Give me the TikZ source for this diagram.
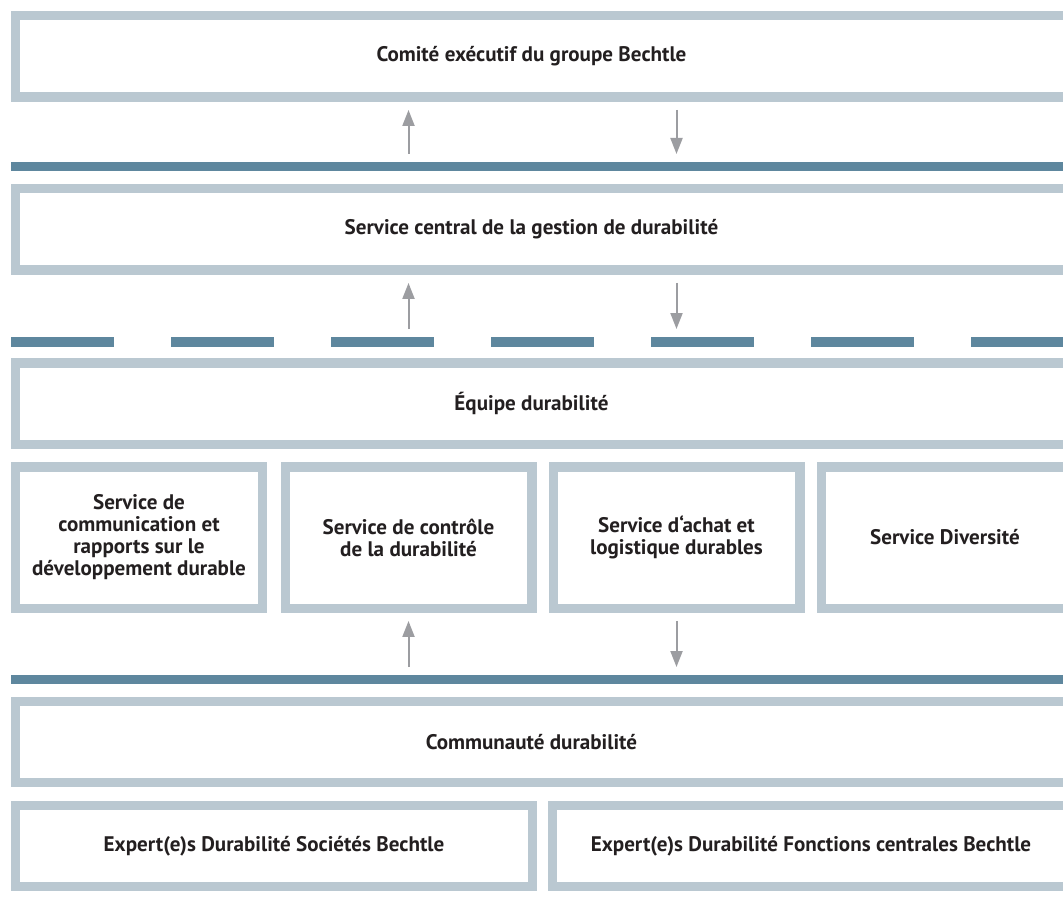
\documentclass[tikz,border=0pt]{standalone}
\usepackage{fontspec}
\setmainfont{PT Sans}
\usetikzlibrary{arrows.meta,positioning}
\definecolor{framegray}{HTML}{BAC8D1}
\definecolor{ruleblue}{HTML}{5E879E}
\definecolor{arrowgray}{HTML}{9C9DA1}
\definecolor{textdark}{HTML}{231F20}
\tikzset{
  frame/.style={draw=framegray, line width=7.1pt, fill=white, inner sep=0pt,
    minimum height=61.1pt, align=center, text=textdark,
    font=\bfseries\fontsize{15.8}{16.5}\selectfont},
  wide/.style={frame, minimum width=790.1pt, anchor=west},
  column/.style={frame, minimum width=184.9pt, minimum height=106.1pt},
  half/.style={frame, minimum width=387.4pt},
  flow/.style={draw=arrowgray, line width=1.5pt, -{Triangle[length=12pt,width=9pt]},
    shorten <=6pt, shorten >=6pt},
  rule/.style={draw=ruleblue, line width=7.1pt}
}
\newcommand{\nudge}{\hspace*{-16.5pt}}

\begin{document}
\begin{tikzpicture}[x=0.75pt,y=-0.75pt]
\clip (0,0) rectangle (1063,916);
\fill[white] (0,0) rectangle (1063,916);
% levels
\node[wide] (board) at (11,56.5) {\nudge Comité exécutif du groupe Bechtle};
\node[wide] (central) at (11,229.5) {\nudge Service central de la gestion de durabilité};
\node[wide] (team) at (11,403.5) {\nudge Équipe durabilité};
\node[column] (report) at (139,537.5) {Service de\\communication et\\rapports sur le\\développement durable};
\node[column] (control) at (408.5,537.5) {Service de contrôle\\de la durabilité};
\node[column] (purchase) at (676.5,537.5) {Service d‘achat et\\logistique durables};
\node[column] (diversity) at (945,537.5) {Service Diversité};
\node[wide] (community) at (11,742) {\nudge Communauté durabilité};
\node[half] (firms) at (274,846) {Expert(e)s Durabilité Sociétés Bechtle};
\node[half] (functions) at (811,846) {Expert(e)s Durabilité Fonctions centrales Bechtle};
% rules
\draw[rule] (11,166.5) -- (1063,166.5);
\coordinate (ruleA) at (11,162);
\foreach \x in {11,171,...,971}
  \fill[ruleblue] (\x,337) rectangle +(103,9.5);
\coordinate (ruleB) at (11,337);
\draw[rule] (11,679.5) -- (1063,679.5);
\coordinate (ruleC) at (11,675);
% arrows
\draw[flow] (ruleA -| control) -- (board.south -| control);
\draw[flow] (board.south -| purchase) -- (ruleA -| purchase);
\draw[flow] (ruleB -| control) -- (central.south -| control);
\draw[flow] (central.south -| purchase) -- (ruleB -| purchase);
\draw[flow] (ruleC -| control) -- (control.south);
\draw[flow] (purchase.south) -- (ruleC -| purchase);
\end{tikzpicture}
\end{document}
